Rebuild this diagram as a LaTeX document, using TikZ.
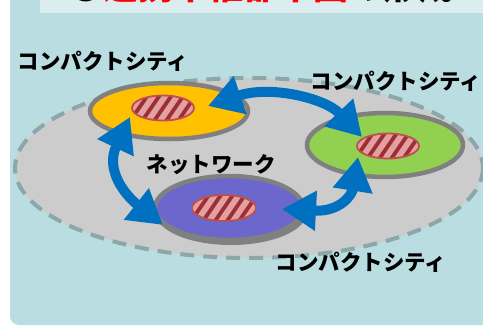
\documentclass[tikz,border=0pt]{standalone}
\usepackage{fontspec}
\newfontfamily\jp{Noto Sans CJK JP}
\usetikzlibrary{arrows.meta,shapes.geometric}
\definecolor{bgteal}{HTML}{B9DDE1}
\definecolor{panelc}{HTML}{DCEDEF}
\definecolor{outergray}{HTML}{CCCCCC}
\definecolor{dashc}{HTML}{8BA7A8}
\definecolor{ringgray}{HTML}{808080}
\definecolor{yellowf}{HTML}{FFC000}
\definecolor{greenf}{HTML}{92D050}
\definecolor{purplef}{HTML}{6B67CC}
\definecolor{pinkc}{HTML}{E3A0A0}
\definecolor{stripec}{HTML}{9E2E36}
\definecolor{coreb}{HTML}{C0504D}
\definecolor{arrowblue}{HTML}{0070C0}
\newcommand\hatchcore[4]{%
  \begin{scope}[shift={(#1,#2)}]
    \fill[pinkc] (0,0) ellipse [x radius=#3, y radius=#4];
    \begin{scope}
      \clip (0,0) ellipse [x radius=#3, y radius=#4];
      \foreach \k in {-4,...,4} \draw[stripec, line width=3.8pt] (\k*12-11,16) -- (\k*12+11,-16);
    \end{scope}
    \draw[coreb, line width=1.8pt] (0,0) ellipse [x radius=#3, y radius=#4];
  \end{scope}}
\begin{document}
\begin{tikzpicture}[x=1pt,y=-1pt,
  city/.style={ellipse, draw=ringgray, line width=4.5pt, inner sep=0pt},
  lab/.style={inner sep=0pt, font=\jp\bfseries\fontsize{21.5}{22}\selectfont},
  bluearrow/.style={draw=arrowblue, line width=10pt,
     arrows={Triangle[length=34pt,width=38pt]-Triangle[length=34pt,width=38pt]}}]
\useasboundingbox (0,0) rectangle (483,325);
\fill[bgteal, rounded corners=9pt] (10,-20) rectangle (503,325);
\fill[panelc] (40,-20) rectangle (503,13);
\begin{scope}
  \clip (40,-20) rectangle (503,13);
  \node[anchor=base west, inner sep=0pt, font=\jp\bfseries\fontsize{35}{35}\selectfont] (title) at (68,-1) {●\textcolor{red}{連携中枢都市圏}の形成};
\end{scope}
% region
\draw[fill=outergray, draw=dashc, line width=4pt, dash pattern=on 14pt off 9pt] (249,168) ellipse [x radius=234, y radius=90];
% cities
\node[city, fill=yellowf, minimum width=158pt, minimum height=56pt] (yel) at (169,111) {};
\node[city, fill=greenf, minimum width=156pt, minimum height=64pt] (grn) at (385,145) {};
\fill[ringgray] (231,212) ellipse [x radius=76, y radius=33];
\node[city, fill=purplef, minimum width=148pt, minimum height=64pt] (pur) at (229,208) {};
\hatchcore{163}{108}{31}{12.5}
\hatchcore{388}{146}{31}{12.5}
\hatchcore{224}{208}{32}{13}
% arrow ends
\coordinate (yA) at (208,106);
\coordinate (gA) at (362,137);
\coordinate (yB) at (130,117);
\coordinate (pB) at (163,225);
\coordinate (pC) at (282,209);
\coordinate (gC) at (358,157);
\draw[bluearrow] (yA) .. controls (270,85) and (325,98) .. (gA);
\draw[bluearrow] (yB) .. controls (105,170) and (125,195) .. (pB);
\draw[bluearrow] (pC) .. controls (340,212) and (352,195) .. (gC);
% labels
\node[lab] (l1) at (103,61) {コンパクトシティ};
\node[lab] (l2) at (396,81) {コンパクトシティ};
\node[lab] (l3) at (211,165) {ネットワーク};
\node[lab] (l4) at (361,262) {コンパクトシティ};
\end{tikzpicture}
\end{document}
